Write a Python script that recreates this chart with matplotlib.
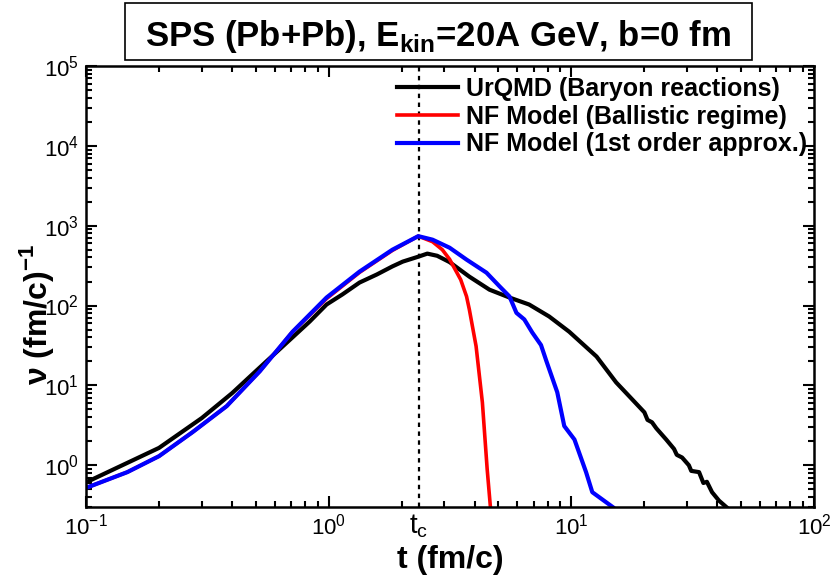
import numpy as np
import matplotlib
matplotlib.use('Agg')
import matplotlib.pyplot as plt
from matplotlib.patches import Rectangle
from matplotlib.ticker import LogLocator, NullFormatter

plt.rcParams['font.family'] = ['Liberation Sans', 'DejaVu Sans']

# --- datos ---
urqmd_t = [0.1, 0.2, 0.3, 0.4, 0.5, 0.6, 0.71, 0.835, 0.98, 1.14, 1.34,
           1.58, 1.83, 2.02, 2.34, 2.55, 2.8, 3.15, 3.8, 4.6, 5.56, 6.7,
           8.1, 9.8, 12.7, 15.3, 17.8, 20.0, 20.6, 21.5, 22.4, 24.6, 26.5,
           27.2, 28.6, 30.5, 31.2, 33.6, 35.0, 36.2, 38.0, 40.6, 43.5]
urqmd_nu = [0.61, 1.65, 3.9, 8.0, 15, 25, 40, 63, 103, 138, 194,
            245, 309, 355, 409, 447, 420, 350, 230, 158, 126, 103,
            73, 47, 23, 10.9, 6.7, 4.6, 3.7, 3.45, 2.9, 2.1, 1.6,
            1.35, 1.25, 1.0, 0.85, 0.82, 0.6, 0.62, 0.46, 0.36, 0.3]

ball_t = [0.1, 0.148, 0.2, 0.275, 0.38, 0.52, 0.71, 0.98, 1.34, 1.83, 2.34,
          2.68, 2.94, 3.15, 3.5, 3.7, 3.8, 4.05, 4.3, 4.5, 4.64]
ball_nu = [0.52, 0.82, 1.3, 2.6, 5.5, 15, 47, 122, 260, 490, 740,
           630, 500, 380, 211, 130, 89, 31, 6.1, 0.89, 0.3]

first_t = [0.1, 0.148, 0.2, 0.275, 0.38, 0.52, 0.71, 0.98, 1.34, 1.83, 2.34,
           2.68, 3.15, 3.7, 4.47, 5.06, 5.56, 5.94, 6.4, 6.9, 7.5, 7.9, 8.75,
           9.35, 10.3, 11.5, 12.2, 14.8]
first_nu = [0.52, 0.82, 1.3, 2.6, 5.5, 15, 47, 126, 266, 500, 740,
            668, 530, 376, 258, 174, 130, 81, 67, 46, 32, 20, 8.2,
            3.1, 2.1, 0.82, 0.46, 0.3]

t_c = 2.35

fig = plt.figure(figsize=(8.32, 5.76), dpi=100)
ax = fig.add_axes([86/832, 1 - 507/576, 728/832, 441/576])

ax.axvline(t_c, color='black', lw=1.6, linestyle=(0, (2, 2)), zorder=1)
ax.plot(urqmd_t, urqmd_nu, color='black', lw=3, label='UrQMD (Baryon reactions)')
ax.plot(ball_t, ball_nu, color='red', lw=2.6, label='NF Model (Ballistic regime)')
ax.plot(first_t, first_nu, color='blue', lw=3, label='NF Model (1st order approx.)')

ax.set_xscale('log')
ax.set_yscale('log')
ax.set_xlim(0.1, 100)
ax.set_ylim(0.3, 1e5)

ax.xaxis.set_minor_locator(LogLocator(base=10, subs=np.arange(2, 10)))
ax.yaxis.set_minor_locator(LogLocator(base=10, subs=np.arange(2, 10)))
ax.xaxis.set_minor_formatter(NullFormatter())
ax.yaxis.set_minor_formatter(NullFormatter())
ax.tick_params(which='both', direction='in', top=True, right=True, width=1.5)
ax.tick_params(which='major', length=8, labelsize=16, pad=5)
ax.tick_params(which='minor', length=4)
for s in ax.spines.values():
    s.set_linewidth(1.8)

ax.set_xlabel('t (fm/c)', fontsize=23, fontweight='bold', labelpad=4)
fig.text(36/832, 1 - 315/576, r'ν (fm/c)$^{\mathdefault{-1}}$', rotation=90,
         ha='center', va='center', fontsize=23, fontweight='bold')

# etiqueta t_c debajo del eje
ax.text(t_c, -0.012, r't$_{\mathdefault{c}}$', transform=ax.get_xaxis_transform(),
        ha='center', va='top', fontsize=20)

leg = ax.legend(loc='upper left', bbox_to_anchor=(397/832, 1 - 77/576),
                bbox_transform=fig.transFigure, frameon=False, borderpad=0,
                borderaxespad=0, handlelength=2.45, handletextpad=0.3,
                labelspacing=0.15, prop={'weight': 'bold', 'size': 18})

# recuadro del titulo
fig.patches.append(Rectangle((125/832, 1 - 60/576), 627/832, 57/576,
                             transform=fig.transFigure, fill=False,
                             edgecolor='black', lw=1.2))
fig.text(438/832, 1 - 46/576, r'SPS (Pb+Pb), E$_{\mathdefault{kin}}$=20A GeV, b=0 fm',
         ha='center', va='baseline', fontsize=25, fontweight='bold')

fig.savefig('out.png', dpi=100)
